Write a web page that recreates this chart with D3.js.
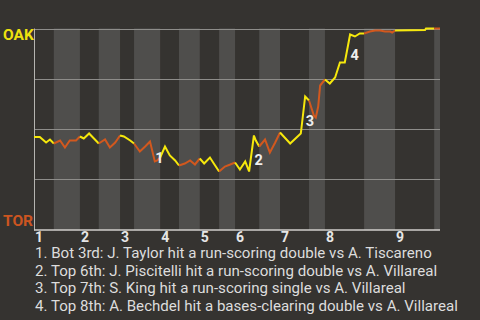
<!DOCTYPE html>
<html>
<head>
<meta charset="utf-8">
<script src="https://cdn.jsdelivr.net/npm/d3@7"></script>
<style>
  html, body { margin: 0; padding: 0; background: #353330; }
  svg { display: block; font-family: Roboto, "Noto Sans", sans-serif; }
</style>
</head>
<body>
<div id="chart"></div>
<script>
////////////////////////////////////////////////////////////////////////
//
// data -- OAK win probability per play, half inning starts, events
//
////////////////////////////////////////////////////////////////////////
var plays = [0, 1.2, 2.5, 3.3, 4.1, 5.4, 6.4, 7.4, 8.7, 9.5,
  10.3, 11.4, 12.2, 13.4, 14.7, 15.7, 16.8, 17.8, 18.6, 19.9,
  20.7, 21.9, 23.0, 24.0, 25.0, 25.5, 26.1, 27.1, 28.1, 29.2,
  30.0, 31.2, 32.3, 33.3, 34.3, 35.2, 36.4, 37.2, 38.3, 39.5,
  40.6, 41.6, 42.6, 43.7, 44.5, 45.5, 45.9, 46.6, 47.8, 48.8,
  49.9, 50.9, 53.0, 55.2, 55.4, 56.1, 56.9, 57.9, 58.3, 58.8,
  59.2, 60.2, 61.2, 62.3, 63.3, 64.3, 65.4, 66.4, 67.4, 68.3,
  69.5, 70.6, 71.6, 72.6, 73.7, 74.1, 74.7, 80.9, 81.1, 82.8, 84];

var wpOak = [0.458, 0.458, 0.43, 0.445, 0.425, 0.44, 0.405, 0.44, 0.44, 0.46,
  0.45, 0.475, 0.455, 0.425, 0.445, 0.405, 0.43, 0.465, 0.46, 0.44,
  0.425, 0.385, 0.41, 0.435, 0.335, 0.34, 0.355, 0.41, 0.365, 0.34,
  0.315, 0.325, 0.34, 0.32, 0.35, 0.325, 0.355, 0.325, 0.285, 0.31,
  0.32, 0.33, 0.295, 0.335, 0.285, 0.465, 0.44, 0.41, 0.445, 0.38,
  0.43, 0.48, 0.425, 0.475, 0.515, 0.66, 0.64, 0.565, 0.555, 0.61,
  0.715, 0.745, 0.725, 0.755, 0.83, 0.83, 0.97, 0.96, 0.975, 0.975,
  0.985, 0.99, 0.99, 0.985, 0.985, 0.98, 0.99, 0.9925, 1.0, 1.0, 1.0];

// first play of each half inning (top 1, bot 1, top 2, ...) and last play
var halfStarts = [0, 4.1, 9.5, 13.4, 17.8, 20.7, 26.1, 30.0, 34.3, 38.3,
  41.6, 46.6, 50.9, 56.9, 60.2, 68.3, 74.7, 82.8];
var lastPlay = 84;

var inningLabels = ["1", "2", "3", "4", "5", "6", "7", "8", "9"];
var teams = ["OAK", "TOR"];

// key plays: play before and play after
var eventFrom = [24.0, 44.5, 55.2, 64.3];
var eventTo = [25.0, 45.5, 56.1, 65.4];
var eventNotes = [
  "1. Bot 3rd: J. Taylor hit a run-scoring double vs A. Tiscareno",
  "2. Top 6th: J. Piscitelli hit a run-scoring double vs A. Villareal",
  "3. Top 7th: S. King hit a run-scoring single vs A. Villareal",
  "4. Top 8th: A. Bechdel hit a bases-clearing double vs A. Villareal"
];

////////////////////////////////////////////////////////////////////////
//
// draw
//
////////////////////////////////////////////////////////////////////////
var width = 480, height = 320;
var awayColor = "#f6e80c";   // yellow, OAK batting (top)
var homeColor = "#d2581e";   // orange, TOR batting (bottom)

var svg = d3.select("#chart").append("svg")
  .attr("width", width)
  .attr("height", height);

svg.append("rect").attr("width", width).attr("height", height).attr("fill", "#353330");

var x = d3.scaleLinear().domain([0, lastPlay]).range([34, 440]);
var y = d3.scaleLinear().domain([0, 1]).range([228.5, 28.5]);

var halves = halfStarts.map(function(s, i)
  {
  return {start: s, end: i < halfStarts.length - 1 ? halfStarts[i + 1] : lastPlay, top: i % 2 === 0};
  });

// bottom half bands lighter
svg.append("g").selectAll("rect")
  .data(halves.filter(function(d) { return !d.top; }))
  .enter().append("rect")
  .attr("x", function(d) { return x(d.start); })
  .attr("width", function(d) { return x(d.end) - x(d.start); })
  .attr("y", y(1))
  .attr("height", 230 - y(1))
  .attr("fill", "#4f4e4c");

// gridlines
svg.append("g").selectAll("line")
  .data([0.25, 0.5, 0.75, 1])
  .enter().append("line")
  .attr("x1", x(0)).attr("x2", x(lastPlay))
  .attr("y1", function(d) { return Math.round(y(d)) + 0.5; })
  .attr("y2", function(d) { return Math.round(y(d)) + 0.5; })
  .attr("stroke", "#8e8d8a").attr("stroke-width", 1);

// axes
svg.append("line").attr("x1", x(0) + 0.5).attr("x2", x(0) + 0.5)
  .attr("y1", y(1)).attr("y2", 230.5)
  .attr("stroke", "#b5b4b0");
svg.append("line").attr("x1", x(0)).attr("x2", x(lastPlay))
  .attr("y1", 230).attr("y2", 230)
  .attr("stroke", "#d0cfcb").attr("stroke-width", 1.5);

// win probability line, one piece per half inning
var points = plays.map(function(p, i) { return [p, wpOak[i]]; });
var line = d3.line().x(function(d) { return x(d[0]); }).y(function(d) { return y(d[1]); });

svg.append("g").selectAll("path")
  .data(halves)
  .enter().append("path")
  .attr("d", function(h)
    {
    return line(points.filter(function(p) { return p[0] >= h.start - 1e-6 && p[0] <= h.end + 1e-6; }));
    })
  .attr("fill", "none")
  .attr("stroke", function(h) { return h.top ? awayColor : homeColor; })
  .attr("stroke-width", 2)
  .attr("stroke-linejoin", "miter");

// event markers
svg.append("g").selectAll("text")
  .data(eventTo)
  .enter().append("text")
  .attr("x", function(d) { return x(d) + 0.5; })
  .attr("y", function(d, i)
    {
    var a = wpOak[plays.indexOf(eventFrom[i])], b = wpOak[plays.indexOf(d)];
    return (y(a) + y(b)) / 2 + 11;
    })
  .attr("font-size", 14.5).attr("font-weight", "bold")
  .attr("fill", "#eeeeee")
  .text(function(d, i) { return i + 1; });

// team labels
svg.append("text").attr("x", 3).attr("y", y(1) + 11)
  .attr("font-size", 15.5).attr("font-weight", "bold").attr("fill", "#eee20f")
  .text(teams[0]);
svg.append("text").attr("x", 3).attr("y", y(0) - 3)
  .attr("font-size", 15.5).attr("font-weight", "bold").attr("fill", "#cc5520")
  .text(teams[1]);

// inning numbers at the start of each top half
svg.append("g").selectAll("text")
  .data(inningLabels)
  .enter().append("text")
  .attr("x", function(d, i) { return x(halfStarts[i * 2]) + 1; })
  .attr("y", 242)
  .attr("font-size", 14).attr("font-weight", "bold")
  .attr("fill", "#e6e6e6")
  .text(function(d) { return d; });

// notes
svg.append("g").selectAll("text")
  .data(eventNotes)
  .enter().append("text")
  .attr("x", 35)
  .attr("y", function(d, i) { return 257.7 + i * 17.8; })
  .attr("font-size", 15.1)
  .attr("fill", "#dddddd")
  .text(function(d) { return d; });
</script>
</body>
</html>
